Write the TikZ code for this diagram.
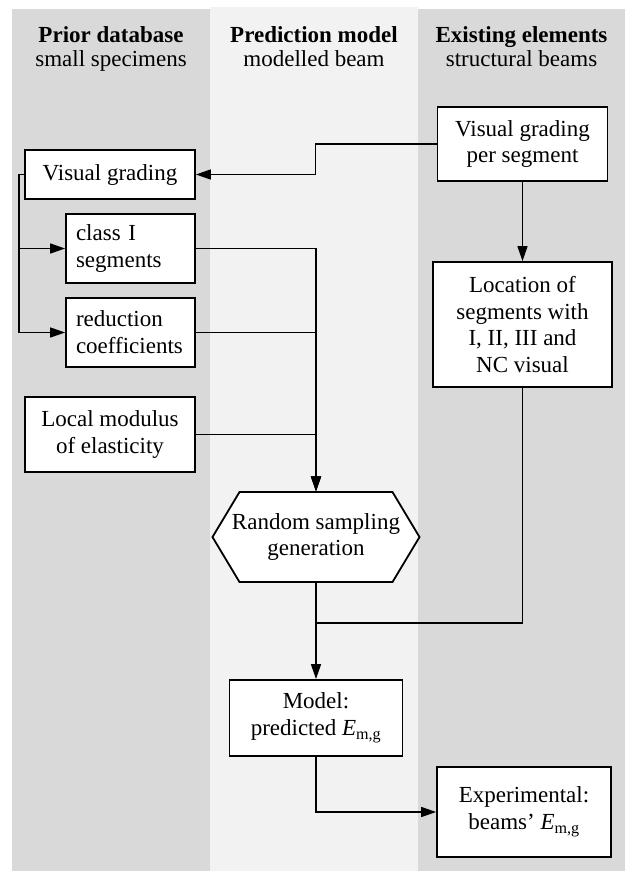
\documentclass[tikz,border=0pt]{standalone}
\usepackage{fontspec}
\setmainfont{Liberation Serif}
\usetikzlibrary{arrows.meta}

\definecolor{lanedark}{RGB}{217,217,217}
\definecolor{lanelight}{RGB}{242,242,242}

\tikzset{every picture/.style={line width=1.5pt}}
\tikzset{
  stepbox/.style={draw, line width=1.8pt, fill=white, inner sep=0pt, align=center},
  flowline/.style={line width=1.5pt},
  flowarrow/.style={line width=1.5pt, -{Triangle[length=15pt,width=10pt]}},
}

\begin{document}
\begin{tikzpicture}[x=1pt,y=1pt,yscale=-1,xscale=1,font=\fontsize{23}{26.8}\selectfont]
\useasboundingbox (0,0) rectangle (625,871);

%Shape: Rectangle [lanes]
\fill[lanedark] (12,9) rectangle (210,871);
\fill[lanelight] (210,7) rectangle (418,871);
\fill[lanedark] (418,9) rectangle (625,871);

% Text Node
\node[anchor=base] (hdprior) at (111,42) {\textbf{Prior database}};
\node[anchor=base] (sbprior) at (111,66) {small specimens};
% Text Node
\node[anchor=base] (hdmodel) at (314,42) {\textbf{Prediction model}};
\node[anchor=base] (sbmodel) at (314,66) {modelled beam};
% Text Node
\node[anchor=base] (hdexist) at (521.5,42) {\textbf{Existing elements}};
\node[anchor=base] (sbexist) at (521.5,66) {structural beams};

%Shape: Rectangle
\node[stepbox, minimum width=170pt, minimum height=49pt] (vg) at (110,174.5) {Visual grading};
%Shape: Rectangle
\node[stepbox, minimum width=129pt, minimum height=69pt, text width=109pt, align=left] (cls) at (130.5,248.5) {class I\\segments};
%Shape: Rectangle
\node[stepbox, minimum width=129pt, minimum height=69pt, text width=109pt, align=left] (red) at (130.5,332.5) {reduction\\coefficients};
%Shape: Rectangle
\node[stepbox, minimum width=170pt, minimum height=75pt] (mod) at (110,434.5) {Local modulus\\of elasticity};
%Shape: Rectangle
\node[stepbox, minimum width=170pt, minimum height=74pt] (vgps) at (522.5,144) {Visual grading\\per segment};
%Shape: Rectangle
\node[stepbox, minimum width=179pt, minimum height=125pt] (loc) at (522.5,324.5) {Location of\\segments with\\I, II, III and\\NC visual};
%Shape: Hexagon
\draw[line width=1.8pt, fill=white] (239.5,492) -- (392.5,492) -- (419.5,537) -- (392.5,582) -- (239.5,582) -- (212.5,537) -- cycle;
% Text Node
\node[minimum width=207pt, minimum height=90pt, inner sep=0pt, align=center] (rsg) at (316,537) {Random sampling\\generation};
%Shape: Rectangle
\node[stepbox, minimum width=173pt, minimum height=76pt] (mdl) at (316,718) {Model:\\predicted \textit{E}\textsubscript{m,g}};
%Shape: Rectangle
\node[stepbox, minimum width=174pt, minimum height=90pt] (exp) at (524,812) {Experimental:\\beams' \textit{E}\textsubscript{m,g}};

\coordinate (merge) at (316,623);

%Straight Lines [connectors]
\draw[flowarrow] (vgps.west) -- ++(-121,0) |- (vg.east);
\draw[flowarrow] (vg.west) -- ++(-5,0) |- (cls.west);
\draw[flowarrow] (vg.west) -- ++(-5,0) |- (red.west);
\draw[flowarrow] (cls.east) -| (rsg.north);
\draw[flowarrow] (red.east) -| (rsg.north);
\draw[flowarrow] (mod.east) -| (rsg.north);
\draw[flowarrow] (vgps.south) -- (loc.north);
\draw[flowline] (loc.south) |- (merge);
\draw[flowarrow] (rsg.south) -- (mdl.north);
\draw[flowarrow] (mdl.south) |- (exp.west);

\end{tikzpicture}
\end{document}
